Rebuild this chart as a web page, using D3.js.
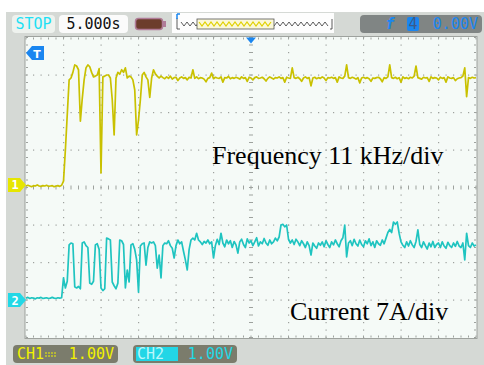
<!DOCTYPE html>
<html>
<head>
<meta charset="utf-8">
<script src="https://cdn.jsdelivr.net/npm/d3@7"></script>
<style>
body { margin: 0; background: #fff; }
</style>
</head>
<body>
<div id="scope"></div>
<script>
// timebase 5.000 s/div, 12 divisions, one sample every 0.25 s
var sampleStep = 0.25;
var timeDomain = [0, 60];
var voltDomain = [-4, 4];
var ch1Offset = 0.07;
var ch2Offset = -3.0;

var ch1Volts = [
    -0.03, -0.01, -0.03, -0.05, -0.02, -0.03, 0.00, -0.03, -0.04, -0.02,
    -0.03, -0.01, -0.04, -0.03, -0.02, -0.05, -0.03, -0.02, -0.04, -0.01,
    0.10, 0.93, 1.87, 2.80, 2.85, 3.00, 3.20, 3.17, 3.07, 1.70,
    2.30, 2.80, 3.12, 3.20, 3.15, 3.00, 2.88, 2.90, 2.93, 3.10,
    0.32, 2.88, 2.90, 2.93, 2.93, 2.85, 2.27, 1.33, 2.85, 3.00,
    2.95, 3.07, 3.00, 3.12, 2.85, 2.90, 2.88, 2.80, 2.53, 1.33,
    1.73, 2.27, 2.93, 3.00, 2.88, 2.80, 2.33, 2.85, 3.07, 2.96,
    2.90, 2.85, 2.90, 2.86, 2.83, 2.88, 2.84, 2.90, 2.82, 2.86,
    2.87, 2.78, 2.85, 2.88, 2.84, 2.86, 2.80, 2.87, 2.85, 3.07,
    2.84, 2.88, 2.83, 2.86, 2.85, 2.82, 2.75, 2.84, 2.86, 2.98,
    2.83, 2.87, 2.85, 2.84, 2.88, 2.74, 2.86, 2.85, 2.89, 2.83,
    2.86, 2.84, 2.87, 2.85, 2.82, 2.88, 2.84, 2.86, 2.76, 2.87,
    2.85, 2.80, 2.86, 2.88, 2.84, 2.85, 2.87, 2.83, 2.77, 2.84,
    2.88, 2.85, 2.82, 2.86, 2.85, 2.88, 2.84, 2.86, 2.74, 2.87,
    2.85, 2.84, 3.12, 2.86, 2.84, 2.87, 2.83, 2.76, 2.85, 2.88,
    2.84, 2.86, 2.64, 2.85, 2.87, 2.83, 2.86, 2.84, 2.88, 2.85,
    2.78, 2.86, 2.85, 2.87, 2.84, 2.86, 2.74, 2.88, 2.85, 2.84,
    2.90, 3.20, 2.86, 2.84, 2.87, 2.85, 2.82, 2.86, 2.72, 2.85,
    2.87, 2.84, 2.86, 2.83, 2.76, 2.85, 2.84, 2.86, 2.87, 2.83,
    2.75, 2.86, 2.84, 2.88, 3.20, 2.86, 2.84, 2.87, 2.83, 2.86,
    2.74, 2.88, 2.84, 2.86, 2.83, 2.87, 2.85, 2.90, 3.17, 2.86,
    2.84, 2.82, 2.87, 2.85, 2.86, 2.76, 2.88, 2.84, 2.86, 2.85,
    2.80, 2.87, 2.84, 2.86, 2.74, 2.88, 2.85, 2.84, 2.86, 2.78,
    2.83, 2.85, 2.86, 2.90, 3.12, 2.35, 2.86, 2.84, 2.87, 2.85,
    2.86
];

var ch2Volts = [
    0.05, 0.07, 0.04, 0.06, 0.05, 0.03, 0.06, 0.05, 0.07, 0.04,
    0.05, 0.06, 0.04, 0.05, 0.07, 0.05, 0.04, 0.06, 0.05, 0.06,
    0.59, 0.32, 0.50, 1.47, 1.52, 1.50, 0.35, 0.32, 0.36, 0.30,
    1.52, 1.55, 1.45, 1.40, 0.45, 0.42, 0.50, 1.47, 1.50, 1.35,
    0.32, 0.25, 0.30, 1.65, 1.63, 1.60, 0.48, 0.38, 0.30, 0.45,
    1.60, 1.58, 1.48, 0.32, 0.80, 0.48, 1.47, 1.50, 1.35, 1.07,
    0.21, 1.44, 1.50, 1.52, 0.93, 1.40, 1.55, 1.52, 1.55, 1.45,
    0.85, 1.20, 0.59, 1.45, 1.52, 1.50, 1.58, 1.45, 1.38, 1.12,
    1.45, 1.60, 1.50, 1.55, 1.30, 1.07, 0.80, 1.35, 1.60, 1.65,
    1.60, 1.78, 1.60, 1.55, 1.48, 1.56, 1.52, 1.60, 1.50, 1.55,
    1.12, 1.45, 1.62, 1.48, 1.78, 1.52, 1.42, 1.60, 1.50, 1.58,
    1.40, 1.56, 1.47, 1.25, 1.55, 1.62, 1.48, 1.40, 1.63, 1.52,
    1.58, 1.45, 1.55, 1.66, 1.44, 1.55, 1.50, 1.64, 1.52, 1.46,
    1.60, 1.50, 1.55, 1.65, 1.58, 1.68, 2.00, 2.02, 1.95, 2.00,
    1.62, 1.52, 1.60, 1.48, 1.62, 1.55, 1.45, 1.58, 1.50, 1.40,
    1.55, 1.45, 1.20, 1.52, 1.44, 1.38, 1.52, 1.46, 1.55, 1.42,
    1.58, 1.48, 1.40, 1.55, 1.47, 1.60, 1.50, 1.42, 1.58, 1.66,
    2.00, 1.15, 1.52, 1.58, 1.45, 1.62, 1.50, 1.44, 1.60, 1.48,
    1.42, 1.58, 1.50, 1.63, 1.45, 1.55, 1.40, 1.58, 1.50, 1.46,
    1.60, 1.50, 1.65, 1.80, 1.88, 1.80, 2.08, 2.02, 2.08, 1.78,
    1.55, 1.46, 1.40, 1.55, 1.44, 1.58, 1.47, 1.40, 1.56, 1.87,
    1.48, 1.40, 1.55, 1.45, 1.36, 1.52, 1.42, 1.56, 1.40, 1.48,
    1.52, 1.40, 1.55, 1.44, 1.38, 1.54, 1.45, 1.40, 1.52, 1.43,
    1.56, 1.44, 1.40, 1.52, 1.07, 1.78, 1.45, 1.40, 1.52, 1.44,
    1.47
];

var annotations = ["Frequency 11 kHz/div", "Current 7A/div"];
var timebaseLabel = "5.000s";
var runLabel = "STOP";
var triggerLevel = "0.00V";
var channelScales = ["1.00V", "1.00V"];

var width = 484, height = 365;
var plot = { left: 26, top: 37.5, right: 476, bottom: 337.5 };
var ch1Color = '#c9c100', ch2Color = '#1fc4c0', uiBlue = '#1a86f0';

var x = d3.scaleLinear().domain(timeDomain).range([plot.left, plot.right]);
var y = d3.scaleLinear().domain(voltDomain).range([plot.bottom, plot.top]);

var svg = d3.select('#scope').append('svg')
    .attr('width', width)
    .attr('height', height)
    .style('display', 'block');

svg.append('rect').attr('width', width).attr('height', height).attr('fill', '#fff');
svg.append('rect').attr('x', 6).attr('y', 12).attr('width', width - 6).attr('height', height - 12)
    .attr('fill', '#d5d9d5');

// screen
svg.append('rect')
    .attr('x', plot.left - 1).attr('y', plot.top - 1)
    .attr('width', plot.right - plot.left + 2).attr('height', plot.bottom - plot.top + 2)
    .attr('fill', '#f5faf7').attr('stroke', '#9ea29e').attr('stroke-width', 1);

function drawGrid() {
    var g = svg.append('g').attr('class', 'grid').attr('fill', '#9ea29e');
    var xSub = d3.range(0, 60.01, 1), ySub = d3.range(-4, 4.01, 0.2);
    var xStep = d3.range(0, 60.01, 5), yStep = d3.range(-4, 4.01, 1);

    // dotted division lines
    xStep.slice(1, -1).forEach(function (t) {
        if (t === 30) return;
        ySub.forEach(function (v) {
            g.append('rect').attr('x', x(t) - 0.5).attr('y', y(v) - 0.5).attr('width', 1.2).attr('height', 1.2);
        });
    });
    yStep.slice(1, -1).forEach(function (v) {
        if (v === 0) return;
        xSub.forEach(function (t) {
            g.append('rect').attr('x', x(t) - 0.5).attr('y', y(v) - 0.5).attr('width', 1.2).attr('height', 1.2);
        });
    });
    // centre axes with small ticks
    ySub.forEach(function (v) {
        g.append('rect').attr('x', x(30) - 2).attr('y', y(v) - 0.5).attr('width', 4).attr('height', 1);
    });
    xSub.forEach(function (t) {
        g.append('rect').attr('x', x(t) - 0.5).attr('y', y(0) - 2).attr('width', 1).attr('height', 4);
    });
    // border ticks
    xSub.forEach(function (t) {
        g.append('rect').attr('x', x(t) - 0.5).attr('y', plot.top).attr('width', 1).attr('height', 2);
        g.append('rect').attr('x', x(t) - 0.5).attr('y', plot.bottom - 2).attr('width', 1).attr('height', 2);
    });
    ySub.forEach(function (v) {
        g.append('rect').attr('x', plot.left).attr('y', y(v) - 0.5).attr('width', 2).attr('height', 1);
        g.append('rect').attr('x', plot.right - 2).attr('y', y(v) - 0.5).attr('width', 2).attr('height', 1);
    });
}

function drawTrace(values, offset, color) {
    var line = d3.line()
        .x(function (d, i) { return x(i * sampleStep); })
        .y(function (d) { return y(d + offset); });
    svg.append('path')
        .datum(values)
        .attr('d', line)
        .attr('fill', 'none')
        .attr('stroke', color)
        .attr('stroke-width', 1.7)
        .attr('stroke-linejoin', 'round');
}

function channelMarker(label, offset, color) {
    var cy = y(offset);
    svg.append('path')
        .attr('d', 'M8,' + (cy - 7) + 'H20L26,' + cy + 'L20,' + (cy + 7) + 'H8Z')
        .attr('fill', color);
    svg.append('text')
        .attr('x', 15).attr('y', cy + 4.5)
        .attr('text-anchor', 'middle')
        .attr('font-family', 'DejaVu Sans Mono')
        .attr('font-size', 12).attr('font-weight', 'bold')
        .attr('fill', '#fff')
        .text(label);
}

drawGrid();
drawTrace(ch1Volts, ch1Offset, ch1Color);
drawTrace(ch2Volts, ch2Offset, ch2Color);
channelMarker('1', ch1Offset, '#e6e600');
channelMarker('2', ch2Offset, '#22d8e6');

// trigger markers
svg.append('path')
    .attr('d', 'M' + (x(30) - 5) + ',' + plot.top + 'h10l-5,6z')
    .attr('fill', uiBlue);
svg.append('path')
    .attr('d', 'M26,53L32,46H44V60H32Z')
    .attr('fill', uiBlue);
svg.append('text')
    .attr('x', 37).attr('y', 57.5).attr('text-anchor', 'middle')
    .attr('font-family', 'DejaVu Sans').attr('font-size', 11).attr('font-weight', 'bold')
    .attr('fill', '#fff').text('T');

// annotations
svg.selectAll('.note')
    .data(annotations)
    .enter().append('text')
    .attr('class', 'note')
    .attr('x', function (d, i) { return i === 0 ? 212 : 290; })
    .attr('y', function (d, i) { return i === 0 ? 164 : 320; })
    .attr('font-family', 'Liberation Serif, Times New Roman, serif')
    .attr('font-size', 26)
    .attr('fill', '#000')
    .text(function (d) { return d; });

// status bar
function box(x0, y0, w, h, fill, stroke) {
    return svg.append('rect').attr('x', x0).attr('y', y0).attr('width', w).attr('height', h)
        .attr('rx', 4).attr('fill', fill).attr('stroke', stroke || 'none');
}
function monoText(tx, ty, str, color, anchor) {
    return svg.append('text').attr('x', tx).attr('y', ty)
        .attr('font-family', 'DejaVu Sans Mono').attr('font-size', 15)
        .attr('text-anchor', anchor || 'start')
        .attr('fill', color).text(str);
}

box(12, 15, 43, 18, '#eef2ee');
monoText(33.5, 29, runLabel, '#1ee0f4', 'middle');
box(59, 15, 69, 18, '#fbfbfb');
monoText(93.5, 29, timebaseLabel, '#111', 'middle');

// memory / battery icon
svg.append('rect').attr('x', 135.5).attr('y', 18.5).attr('width', 27).attr('height', 11).attr('rx', 3)
    .attr('fill', '#6c3d2c').attr('stroke', '#b07c98').attr('stroke-width', 1.5);
svg.append('rect').attr('x', 163).attr('y', 21).attr('width', 3).attr('height', 6).attr('fill', '#b07c98');

// memory overview
svg.append('rect').attr('x', 172).attr('y', 13).attr('width', 162).attr('height', 20).attr('fill', '#fdfdfd');
var zig = d3.range(181, 330, 3);
var zigLine = d3.line().x(function (d) { return d; }).y(function (d, i) { return i % 2 ? 26 : 22; });
svg.append('path').datum(zig).attr('d', zigLine).attr('fill', 'none').attr('stroke', '#333').attr('stroke-width', 0.8);
svg.append('rect').attr('x', 197).attr('y', 19).attr('width', 77).attr('height', 10)
    .attr('fill', '#fbf8d8').attr('stroke', '#555').attr('stroke-width', 0.8);
svg.append('path').datum(zig.filter(function (d) { return d > 198 && d < 273; }))
    .attr('d', zigLine).attr('fill', 'none').attr('stroke', '#e0d000').attr('stroke-width', 1.2);
svg.append('path').attr('d', 'M177,18V29H180M332,19V29H330').attr('fill', 'none').attr('stroke', '#333').attr('stroke-width', 0.8);
svg.append('path').attr('d', 'M177,14V19M177,14H180').attr('fill', 'none').attr('stroke', uiBlue).attr('stroke-width', 1.5);

// trigger status
box(360, 15, 122, 18, '#808584');
monoText(390, 29, 'f', uiBlue, 'middle').attr('font-style', 'italic').attr('font-weight', 'bold');
svg.append('rect').attr('x', 407).attr('y', 17).attr('width', 12).attr('height', 14).attr('rx', 2).attr('fill', uiBlue);
monoText(413, 29, '4', '#3a5a8a', 'middle');
monoText(478, 29, triggerLevel, uiBlue, 'end');

// channel bar
box(13, 345, 105, 18, '#7b7c6c');
monoText(17, 359, 'CH1', '#f2f200');
svg.append('path').attr('d', 'M45,353H57M45,356H57').attr('stroke', '#f2f200').attr('stroke-width', 1).attr('stroke-dasharray', '2,1');
monoText(114, 359, channelScales[0], '#f2f200', 'end');

box(133, 345, 104, 18, '#7b7c6c');
svg.append('rect').attr('x', 136).attr('y', 347).attr('width', 42).attr('height', 14).attr('fill', '#22d6e6');
monoText(137, 359, 'CH2', '#bdf6fa');
monoText(233, 359, channelScales[1], '#22d8e6', 'end');
</script>
</body>
</html>
